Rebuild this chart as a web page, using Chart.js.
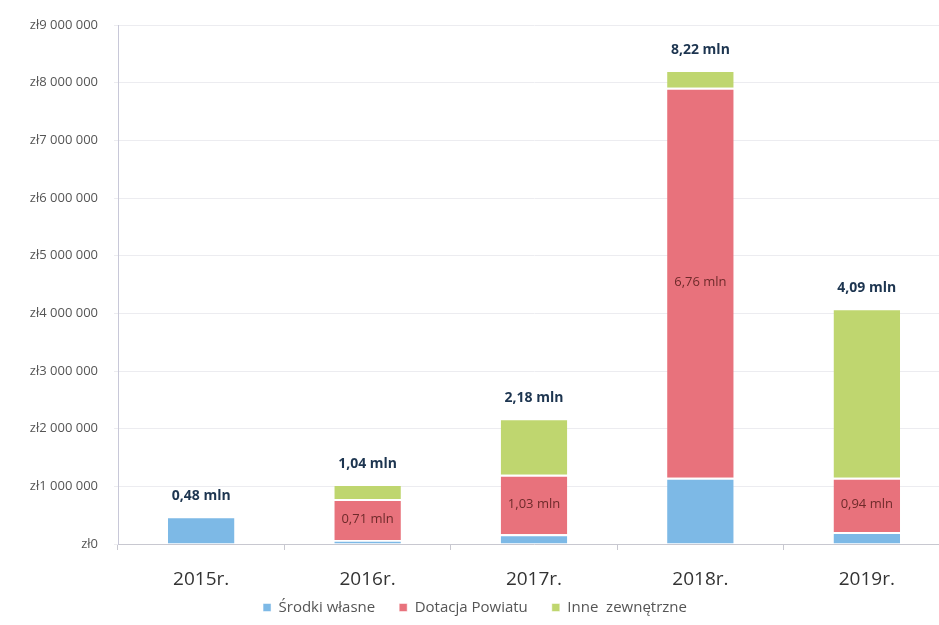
<!DOCTYPE html>
<html>
<head>
<meta charset="utf-8">
<script src="https://cdn.jsdelivr.net/npm/chart.js@4"></script>
<style>
  html, body { margin: 0; padding: 0; background: #fff; overflow: hidden; }
  #wrap { width: 950px; height: 625px; }
</style>
</head>
<body>
<div id="wrap"><canvas id="chart"></canvas></div>
<script>
// lata
const years = ['2015r.', '2016r.', '2017r.', '2018r.', '2019r.'];

// wartosci w zl
const srodkiWlasne = [480000, 70000, 170000, 1150000, 210000];
const dotacjaPowiatu = [0, 710000, 1030000, 6760000, 940000];
const inneZewnetrzne = [0, 260000, 980000, 310000, 2940000];

// etykiety nad slupkami i w czerwonych segmentach
const totalLabels = ['0,48 mln', '1,04 mln', '2,18 mln', '8,22 mln', '4,09 mln'];
const dotacjaLabels = ['', '0,71 mln', '1,03 mln', '6,76 mln', '0,94 mln'];

const yTicks = [0, 1000000, 2000000, 3000000, 4000000, 5000000, 6000000, 7000000, 8000000, 9000000];

function formatZl(v) {
  return 'zł' + String(v).replace(/\B(?=(\d{3})+(?!\d))/g, ' ');
}

// plugin do rysowania etykiet
const labelsPlugin = {
  id: 'labels',
  afterDatasetsDraw(chart) {
    const ctx = chart.ctx;
    ctx.save();
    ctx.textAlign = 'center';
    ctx.textBaseline = 'middle';

    const red = chart.getDatasetMeta(1);
    ctx.font = '13px "Open Sans", sans-serif';
    ctx.fillStyle = '#6e2a2a';
    red.data.forEach((bar, i) => {
      if (!dotacjaLabels[i]) return;
      ctx.fillText(dotacjaLabels[i], bar.x, (bar.y + bar.base) / 2);
    });

    ctx.font = 'bold 14px "Open Sans", sans-serif';
    ctx.fillStyle = '#1d3550';
    const yScale = chart.scales.y;
    years.forEach((y, i) => {
      const total = srodkiWlasne[i] + dotacjaPowiatu[i] + inneZewnetrzne[i];
      const x = chart.getDatasetMeta(0).data[i].x;
      ctx.fillText(totalLabels[i], x, yScale.getPixelForValue(total) - 20);
    });
    ctx.restore();
  }
};

const ctx = document.getElementById('chart');
const chart = new Chart(ctx, {
  type: 'bar',
  plugins: [labelsPlugin],
  data: {
    labels: years,
    datasets: [
      { label: 'Środki własne', data: srodkiWlasne, backgroundColor: '#7db9e6' },
      { label: 'Dotacja Powiatu', data: dotacjaPowiatu, backgroundColor: '#e8727c' },
      { label: 'Inne  zewnętrzne', data: inneZewnetrzne, backgroundColor: '#bfd66f' }
    ].map(d => Object.assign(d, {
      borderColor: '#ffffff',
      borderWidth: { top: 2, bottom: 0, left: 0, right: 0 },
      borderSkipped: false,
      barPercentage: 0.4,
      categoryPercentage: 1
    }))
  },
  options: {
    responsive: true,
    maintainAspectRatio: false,
    animation: false,
    layout: { padding: { top: 25, left: 0, right: 0, bottom: 0 } },
    plugins: {
      legend: {
        position: 'bottom',
        labels: {
          boxWidth: 8,
          boxHeight: 8,
          padding: 24,
          color: '#555',
          font: { size: 15, family: '"Open Sans", sans-serif' }
        }
      },
      tooltip: { enabled: false }
    },
    scales: {
      x: {
        stacked: true,
        afterFit: (axis) => {
          axis.height = 32;
          // etykiety lat wychodza poza pole osi, bez przycinania
          axis._computeLabelArea = () => undefined;
        },
        grid: { drawOnChartArea: false, color: '#c8c8d0', tickLength: 6 },
        border: { color: '#c8c8d0' },
        ticks: {
          color: '#333',
          padding: 18,
          font: { size: 19, family: '"Open Sans", sans-serif' }
        }
      },
      y: {
        stacked: true,
        min: 0,
        max: 9000000,
        afterFit: (axis) => { axis.width = 118; },
        afterBuildTicks: (axis) => { axis.ticks = yTicks.map(v => ({ value: v })); },
        grid: { color: '#ececf0', tickLength: 4 },
        border: { color: '#c8c8d8' },
        ticks: {
          color: '#555',
          padding: 16,
          font: { size: 13, family: '"Open Sans", sans-serif' },
          callback: (v) => formatZl(v)
        }
      }
    }
  }
});
</script>
</body>
</html>
